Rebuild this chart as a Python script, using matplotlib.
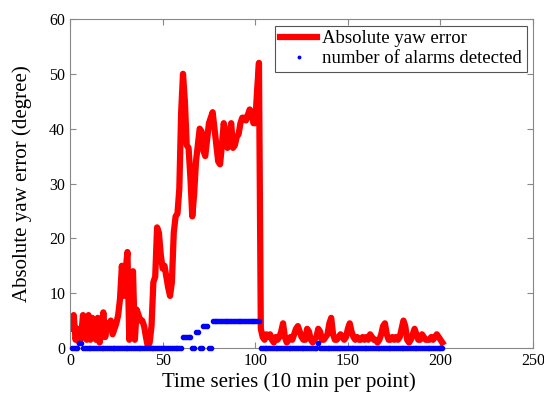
import numpy as np
import matplotlib.pyplot as plt

plt.rcParams['font.family'] = ['Liberation Serif', 'DejaVu Serif']

# yaw error (degree), one value per 10 min point, t = 1..201
yaw_err = [3.5, 6, 1.5, 3.5, 1, 2, 6, 2, 1.5, 6,
           1.5, 5.5, 3, 1.5, 5.5, 1, 3, 6.5, 2, 4.5,
           3.5, 5, 2.5, 3.5, 4.5, 6, 9, 15, 9.5, 14,
           17.5, 1.5, 10, 14, 1.5, 7, 6, 5, 5, 4,
           2, 0.3, 1, 4, 12, 13, 22, 21, 17, 14.5,
           15, 13, 11, 9.5, 12, 21, 24, 24.5, 29, 43,
           50, 45, 37, 36.5, 31, 24, 28, 34, 37, 40,
           39.5, 36, 35, 38, 41, 42, 43, 40, 37, 34,
           33.5, 37, 41, 38, 36.5, 39, 41, 36.5, 37, 38.5,
           39, 41, 42, 42, 41.5, 42.5, 43.5, 43, 41, 41,
           47, 52, 3.5, 2, 1.5, 2.5, 2, 2.5, 1.5, 1,
           2, 1.5, 2, 3, 4.5, 2, 1, 1.5, 2, 1.5,
           2.5, 3.5, 4, 3, 2, 1.5, 1.5, 3.5, 3, 1.5,
           1, 1.5, 2, 3.5, 3, 1.5, 1.5, 2, 2.5, 4.5,
           5.5, 2.5, 1.5, 1.5, 2, 2.5, 2, 1.5, 2, 3.5,
           4.5, 3, 2, 1.5, 2, 1.5, 1.5, 2, 1.5, 2,
           1.5, 2.5, 2, 1.5, 1.5, 1, 1.5, 2.5, 4, 4.5,
           2.5, 1.5, 1.5, 2, 1.5, 2, 1.5, 2, 3.5, 5,
           4, 1.5, 1, 1.5, 2.5, 3.5, 2.5, 1.5, 1.5, 2.5,
           2, 1.5, 1.5, 1.5, 2, 1.5, 2, 2.5, 2, 1.5,
           1]

# number of alarms detected at each point
alarms = [0, 0, 0, 0, 1, 1, 0, 0, 0, 0,
          0, 0, 0, 0, 0, 0, 0, 0, 0, 0,
          0, 0, 0, 0, 0, 0, 0, 0, 0, 0,
          0, 0, 0, 0, 0, 0, 0, 0, 0, 0,
          0, 0, 0, 0, 0, 0, 0, 0, 0, 0,
          0, 0, 0, 0, 0, 0, 0, 0, 0, 0,
          2, 2, 2, 2, 2, 0, 0, 3, 3, 0,
          0, 4, 4, 4, 0, 0, 5, 5, 5, 5,
          5, 5, 5, 5, 5, 5, 5, 5, 5, 5,
          5, 5, 5, 5, 5, 5, 5, 5, 5, 5,
          5, 5, 0, 0, 0, 0, 0, 0, 0, 0,
          0, 0, 0, 0, 0, 0, 0, 0, 0, 0,
          0, 0, 0, 0, 0, 0, 0, 0, 0, 0,
          0, 0, 0, 1, 0, 0, 0, 0, 0, 0,
          0, 0, 0, 0, 0, 0, 0, 0, 0, 0,
          0, 0, 0, 0, 0, 0, 0, 0, 0, 0,
          0, 0, 0, 0, 0, 0, 0, 0, 0, 0,
          0, 0, 0, 0, 0, 0, 0, 0, 0, 0,
          0, 0, 0, 0, 0, 0, 0, 0, 0, 0,
          0, 0, 0, 0, 0, 0, 0, 0, 0, 0,
          0]

t = np.arange(1, len(yaw_err) + 1)

fig = plt.figure(figsize=(5.44, 4.0), dpi=100)
ax = fig.add_axes([0.1287, 0.13, 0.8513, 0.8225])

ax.plot(t, yaw_err, color='#ff0000', lw=4.5, label='Absolute yaw error', zorder=2)
ax.plot(t, alarms, ls='none', marker='.', ms=6, color='#0000ff',
        label='number of alarms detected', zorder=3, clip_on=False)

ax.set_xlim(0, 250)
ax.set_ylim(0, 60)
ax.set_xticks([0, 50, 100, 150, 200, 250])
ax.set_yticks([0, 10, 20, 30, 40, 50, 60])
ax.tick_params(direction='in', top=True, right=True, labelsize=11.5,
               color='#888888', length=4)
for s in ax.spines.values():
    s.set_color('#888888')

ax.set_xlabel('Time series (10 min per point)', fontsize=15)
ax.set_ylabel('Absolute yaw error (degree)', fontsize=15)
ax.xaxis.set_label_coords(0.473, -0.075)
ax.yaxis.set_label_coords(-0.083, 0.5)

leg = ax.legend(loc='upper right', fontsize=13.5, fancybox=False,
                edgecolor='#555555', framealpha=1, handlelength=2.0,
                borderaxespad=0.35, handletextpad=0.25, borderpad=0.25,
                labelspacing=0.15, markerscale=0.6)
leg.get_frame().set_linewidth(0.8)

fig.savefig('out.png', dpi=100)
